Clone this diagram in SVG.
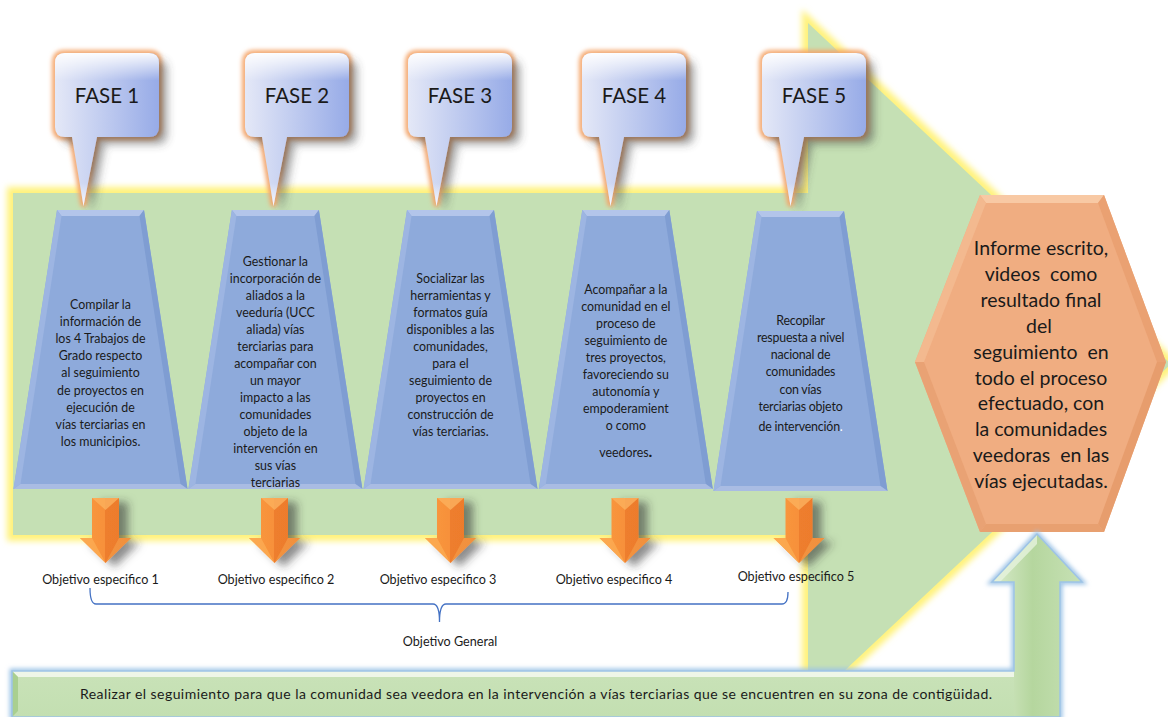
<svg xmlns="http://www.w3.org/2000/svg" xmlns:xlink="http://www.w3.org/1999/xlink" width="1168" height="717" viewBox="0 0 1168 717">
<style>
.t{font-family:Lato,"Liberation Sans",sans-serif;font-size:12.4px;fill:#1a1a1a;text-anchor:middle}
.f{font-family:Lato,"Liberation Sans",sans-serif;font-size:20.5px;fill:#1a1a1a;text-anchor:middle}
.h{font-family:Lato,"Liberation Sans",sans-serif;font-size:19.5px;fill:#1a1a1a;text-anchor:middle}
.l{font-family:Lato,"Liberation Sans",sans-serif;font-size:12.6px;fill:#1a1a1a;text-anchor:middle}
.b{font-family:Lato,"Liberation Sans",sans-serif;font-size:14px;fill:#1a1a1a;text-anchor:middle}
.trap{fill:#8eaadb}
.trapTop{fill:#b3c5ea}
.trapL{fill:#9db5e2}
.trapR{fill:#7f9dd2}
.trapB{fill:#a9bce3}
</style>
<defs>
<filter id="glowY" x="-10%" y="-10%" width="120%" height="120%"><feGaussianBlur stdDeviation="3"/></filter>
<filter id="glowO" x="-20%" y="-20%" width="140%" height="140%"><feGaussianBlur stdDeviation="2.2"/></filter>
<filter id="shadow" x="-30%" y="-30%" width="170%" height="170%">
<feGaussianBlur in="SourceAlpha" stdDeviation="4"/><feOffset dx="8" dy="7" result="o"/>
<feFlood flood-color="#404040" flood-opacity="0.5"/><feComposite in2="o" operator="in"/>
<feMerge><feMergeNode/><feMergeNode in="SourceGraphic"/></feMerge></filter>
<filter id="shadowA" x="-50%" y="-30%" width="220%" height="170%">
<feGaussianBlur in="SourceAlpha" stdDeviation="4"/><feOffset dx="9" dy="4" result="o"/>
<feFlood flood-color="#303030" flood-opacity="0.55"/><feComposite in2="o" operator="in"/>
<feMerge><feMergeNode/><feMergeNode in="SourceGraphic"/></feMerge></filter>
<linearGradient id="gCall" x1="0" y1="0" x2="1" y2="0"><stop offset="0" stop-color="#e4e8f7"/><stop offset="1" stop-color="#97abe7"/></linearGradient>
<linearGradient id="gGloss" x1="0" y1="0" x2="0" y2="1"><stop offset="0" stop-color="#fff" stop-opacity="0.95"/><stop offset="0.18" stop-color="#fff" stop-opacity="0"/><stop offset="0.85" stop-color="#fff" stop-opacity="0"/><stop offset="1" stop-color="#fff" stop-opacity="0.9"/></linearGradient>
<linearGradient id="gOr" x1="0" y1="0" x2="1" y2="0"><stop offset="0" stop-color="#f99a3e"/><stop offset="0.5" stop-color="#f7903a"/><stop offset="0.5" stop-color="#ee7e2d"/><stop offset="1" stop-color="#ec7a2c"/></linearGradient>
<linearGradient id="gBar" x1="0" y1="0" x2="0" y2="1"><stop offset="0" stop-color="#f3f9ee"/><stop offset="0.25" stop-color="#d4e8c6"/><stop offset="1" stop-color="#c3dfb1"/></linearGradient>
<linearGradient id="gUp" x1="0" y1="0" x2="1" y2="0"><stop offset="0" stop-color="#d9ebcc"/><stop offset="0.45" stop-color="#b5d69e"/><stop offset="1" stop-color="#c7e1b5"/></linearGradient>
<g id="orArrow">
<path d="M-13.5,498 H13.5 V538 H25.5 L0,563 L-25.5,538 H-13.5 Z" fill="url(#gOr)"/>
<path d="M-13.5,498 H13.5 L0,510 Z" fill="#fbb15f" opacity="0.8"/>
<path d="M-25.5,538 H-13.5 L0,563 Z" fill="#fcae56" opacity="0.75"/>
<path d="M13.5,538 H25.5 L0,563 Z" fill="#f5a04b" opacity="0.6"/>
</g>
<path id="callShape" d="M10,0 H94 Q104,0 104,10 V74 Q104,84 94,84 H42 L28.5,153 L17,84 H10 Q0,84 0,74 V10 Q0,0 10,0 Z"/>
</defs>

<g id="bigArrow">
<path d="M13,193 H808 V23 L1171,364 L808,705 V535 H13 Z" fill="none" stroke="#fff27a" stroke-width="12" filter="url(#glowY)"/>
<path d="M13,193 H808 V23 L1171,364 L808,705 V535 H13 Z" fill="#c5e0b4"/>
</g>

<g id="fases">
<g id="fase1" transform="translate(55,53)">
<use xlink:href="#callShape" fill="none" stroke="#f5a86e" stroke-width="6" filter="url(#glowO)"/>
<use xlink:href="#callShape" fill="url(#gCall)" filter="url(#shadow)"/>
<use xlink:href="#callShape" fill="url(#gGloss)"/>
<text class="f" x="52" y="50">FASE 1</text></g>
<g id="fase2" transform="translate(245,53)">
<use xlink:href="#callShape" fill="none" stroke="#f5a86e" stroke-width="6" filter="url(#glowO)"/>
<use xlink:href="#callShape" fill="url(#gCall)" filter="url(#shadow)"/>
<use xlink:href="#callShape" fill="url(#gGloss)"/>
<text class="f" x="52" y="50">FASE 2</text></g>
<g id="fase3" transform="translate(408,53)">
<use xlink:href="#callShape" fill="none" stroke="#f5a86e" stroke-width="6" filter="url(#glowO)"/>
<use xlink:href="#callShape" fill="url(#gCall)" filter="url(#shadow)"/>
<use xlink:href="#callShape" fill="url(#gGloss)"/>
<text class="f" x="52" y="50">FASE 3</text></g>
<g id="fase4" transform="translate(582,53)">
<use xlink:href="#callShape" fill="none" stroke="#f5a86e" stroke-width="6" filter="url(#glowO)"/>
<use xlink:href="#callShape" fill="url(#gCall)" filter="url(#shadow)"/>
<use xlink:href="#callShape" fill="url(#gGloss)"/>
<text class="f" x="52" y="50">FASE 4</text></g>
<g id="fase5" transform="translate(762,53)">
<use xlink:href="#callShape" fill="none" stroke="#f5a86e" stroke-width="6" filter="url(#glowO)"/>
<use xlink:href="#callShape" fill="url(#gCall)" filter="url(#shadow)"/>
<use xlink:href="#callShape" fill="url(#gGloss)"/>
<text class="f" x="52" y="50">FASE 5</text></g>
</g>

<g id="trap1" transform="translate(100.5,0)">
<polygon class="trap" points="-43.5,210 43.5,210 87,489 -87,489"/>
<polygon class="trapTop" points="-43.5,210 43.5,210 39,216 -39,216"/>
<polygon class="trapL" points="-43.5,210 -39,216 -80,484 -87,489"/>
<polygon class="trapR" points="43.5,210 39,216 80,484 87,489"/>
<polygon class="trapB" points="-87,489 -80,484 80,484 87,489"/>
<text class="t"><tspan x="0" y="309">Compilar la</tspan><tspan x="0" y="326.1">información de</tspan><tspan x="0" y="343.2">los 4 Trabajos de</tspan><tspan x="0" y="360.3">Grado respecto</tspan><tspan x="0" y="377.4">al seguimiento</tspan><tspan x="0" y="394.5">de proyectos en</tspan><tspan x="0" y="411.6">ejecución de</tspan><tspan x="0" y="428.7">vías terciarias en</tspan><tspan x="0" y="445.8">los municipios.</tspan></text>
</g>
<g id="trap2" transform="translate(275.4,0)">
<polygon class="trap" points="-43.5,210 43.5,210 87,489 -87,489"/>
<polygon class="trapTop" points="-43.5,210 43.5,210 39,216 -39,216"/>
<polygon class="trapL" points="-43.5,210 -39,216 -80,484 -87,489"/>
<polygon class="trapR" points="43.5,210 39,216 80,484 87,489"/>
<polygon class="trapB" points="-87,489 -80,484 80,484 87,489"/>
<text class="t"><tspan x="0" y="265.7">Gestionar la</tspan><tspan x="0" y="282.7">incorporación de</tspan><tspan x="0" y="299.7">aliados a la</tspan><tspan x="0" y="316.7">veeduría (UCC</tspan><tspan x="0" y="333.7">aliada) vías</tspan><tspan x="0" y="350.7">terciarias para</tspan><tspan x="0" y="367.7">acompañar con</tspan><tspan x="0" y="384.7">un mayor</tspan><tspan x="0" y="401.7">impacto a las</tspan><tspan x="0" y="418.7">comunidades</tspan><tspan x="0" y="435.7">objeto de la</tspan><tspan x="0" y="452.7">intervención en</tspan><tspan x="0" y="469.7">sus vías</tspan><tspan x="0" y="486.7">terciarias</tspan></text>
</g>
<g id="trap3" transform="translate(450.5,0)">
<polygon class="trap" points="-43.5,210 43.5,210 87,489 -87,489"/>
<polygon class="trapTop" points="-43.5,210 43.5,210 39,216 -39,216"/>
<polygon class="trapL" points="-43.5,210 -39,216 -80,484 -87,489"/>
<polygon class="trapR" points="43.5,210 39,216 80,484 87,489"/>
<polygon class="trapB" points="-87,489 -80,484 80,484 87,489"/>
<text class="t"><tspan x="0" y="283">Socializar las</tspan><tspan x="0" y="300">herramientas y</tspan><tspan x="0" y="317">formatos guía</tspan><tspan x="0" y="334">disponibles a las</tspan><tspan x="0" y="351">comunidades,</tspan><tspan x="0" y="368">para el</tspan><tspan x="0" y="385">seguimiento de</tspan><tspan x="0" y="402">proyectos en</tspan><tspan x="0" y="419">construcción de</tspan><tspan x="0" y="436">vías terciarias.</tspan></text>
</g>
<g id="trap4" transform="translate(625.8,0)">
<polygon class="trap" points="-43.5,210 43.5,210 87,489 -87,489"/>
<polygon class="trapTop" points="-43.5,210 43.5,210 39,216 -39,216"/>
<polygon class="trapL" points="-43.5,210 -39,216 -80,484 -87,489"/>
<polygon class="trapR" points="43.5,210 39,216 80,484 87,489"/>
<polygon class="trapB" points="-87,489 -80,484 80,484 87,489"/>
<text class="t"><tspan x="0" y="294">Acompañar a la</tspan><tspan x="0" y="311">comunidad en el</tspan><tspan x="0" y="328">proceso de</tspan><tspan x="0" y="345">seguimiento de</tspan><tspan x="0" y="362">tres proyectos,</tspan><tspan x="0" y="379">favoreciendo su</tspan><tspan x="0" y="396">autonomía y</tspan><tspan x="0" y="413">empoderamient</tspan><tspan x="0" y="430">o como</tspan><tspan x="0" y="457">veedores<tspan style="font-size:16px;font-weight:bold">.</tspan></tspan></text>
</g>
<g id="trap5" transform="translate(800.5,0)">
<polygon class="trap" points="-43.5,211 43.5,211 87,491 -87,491"/>
<polygon class="trapTop" points="-43.5,211 43.5,211 39,217 -39,217"/>
<polygon class="trapL" points="-43.5,211 -39,217 -80,486 -87,491"/>
<polygon class="trapR" points="43.5,211 39,217 80,486 87,491"/>
<polygon class="trapB" points="-87,491 -80,486 80,486 87,491"/>
<text class="t" style="letter-spacing:-0.2px"><tspan x="0" y="324.7">Recopilar</tspan><tspan x="0" y="341.9">respuesta a nivel</tspan><tspan x="0" y="359.1">nacional de</tspan><tspan x="0" y="376.3">comunidades</tspan><tspan x="0" y="393.5">con vías</tspan><tspan x="0" y="410.7">terciarias objeto</tspan><tspan x="0" y="430.7">de intervención<tspan style="fill:#ffffff">.</tspan></tspan></text>
</g>

<g id="hexagon">
<polygon points="915,362 980,195 1104,195 1166,362 1104,532 980,532" fill="#f0ad81"/>
<polygon points="980,195 1104,195 1098,203 986,203" fill="#f8c9a4"/>
<polygon points="915,362 980,195 986,203 924,362" fill="#f3b98f"/>
<polygon points="1166,362 1104,195 1098,203 1157,362" fill="#eaa172"/>
<polygon points="915,362 924,362 986,524 980,532" fill="#e9a274"/>
<polygon points="1166,362 1157,362 1098,524 1104,532" fill="#e79d6d"/>
<polygon points="980,532 986,524 1098,524 1104,532" fill="#e8a070"/>
<text class="h" xml:space="preserve"><tspan x="1041" y="255">Informe escrito,</tspan><tspan x="1041" y="280.9">videos  como</tspan><tspan x="1041" y="306.8">resultado final</tspan><tspan x="1039" y="332.7">del</tspan><tspan x="1041" y="358.6">seguimiento  en</tspan><tspan x="1041" y="384.5">todo el proceso</tspan><tspan x="1041" y="410.4">efectuado, con</tspan><tspan x="1041" y="436.3">la comunidades</tspan><tspan x="1041" y="462.2">veedoras  en las</tspan><tspan x="1041" y="488.1">vías ejecutadas.</tspan></text>
</g>

<g id="connectors">
<g filter="url(#shadowA)"><use xlink:href="#orArrow" transform="translate(105.5,0)"/></g>
<g filter="url(#shadowA)"><use xlink:href="#orArrow" transform="translate(274.5,0)"/></g>
<g filter="url(#shadowA)"><use xlink:href="#orArrow" transform="translate(450.5,0)"/></g>
<g filter="url(#shadowA)"><use xlink:href="#orArrow" transform="translate(625,0)"/></g>
<g filter="url(#shadowA)"><use xlink:href="#orArrow" transform="translate(799,0)"/></g>
<path d="M90,588 Q90,604 96,604 H433 Q439.5,604 439.5,622 Q439.5,604 446,604 H782 Q788,604 788,592" fill="none" stroke="#4472c4" stroke-width="1.3"/>
</g>

<g id="labels">
<text class="l" x="100.5" y="584">Objetivo especifico 1</text>
<text class="l" x="276" y="584">Objetivo especifico 2</text>
<text class="l" x="438" y="584">Objetivo especifico 3</text>
<text class="l" x="614" y="584">Objetivo especifico 4</text>
<text class="l" x="796" y="581">Objetivo especifico 5</text>
<text class="l" x="450" y="646">Objetivo General</text>
</g>

<g id="bottomArrow">
<path d="M12,671 H1014 V582 H992 L1037,534 L1082,582 H1060 V717 H12 Z" fill="none" stroke="#9dc3e6" stroke-width="5" filter="url(#glowO)"/>
<path d="M12,671 H1014 V582 H992 L1037,534 L1082,582 H1060 V717 H12 Z" fill="url(#gBar)"/>
<path d="M1014,582 H992 L1037,534 L1082,582 H1060 V717 H1014 Z" fill="url(#gUp)"/>
<path d="M12,671 H1014 L1014,677 H18 Z" fill="#f7fbf4" opacity="0.8"/>
<path d="M12,671 L18,677 V711 L12,717 Z" fill="#a9cf90"/>
<path d="M992,582 L1037,534 L1037,544 L1000,582 Z" fill="#e6f2dd" opacity="0.8"/>
<path d="M12,671 H1014 V582 H992 L1037,534 L1082,582 H1060 V717 H12 Z" fill="none" stroke="#9dc3e6" stroke-width="1.5"/>
<text class="b" x="536" y="698.5" textLength="912" lengthAdjust="spacing">Realizar el seguimiento para que la comunidad sea veedora en la intervención a vías terciarias que se encuentren en su zona de contigüidad.</text>
</g>
</svg>
